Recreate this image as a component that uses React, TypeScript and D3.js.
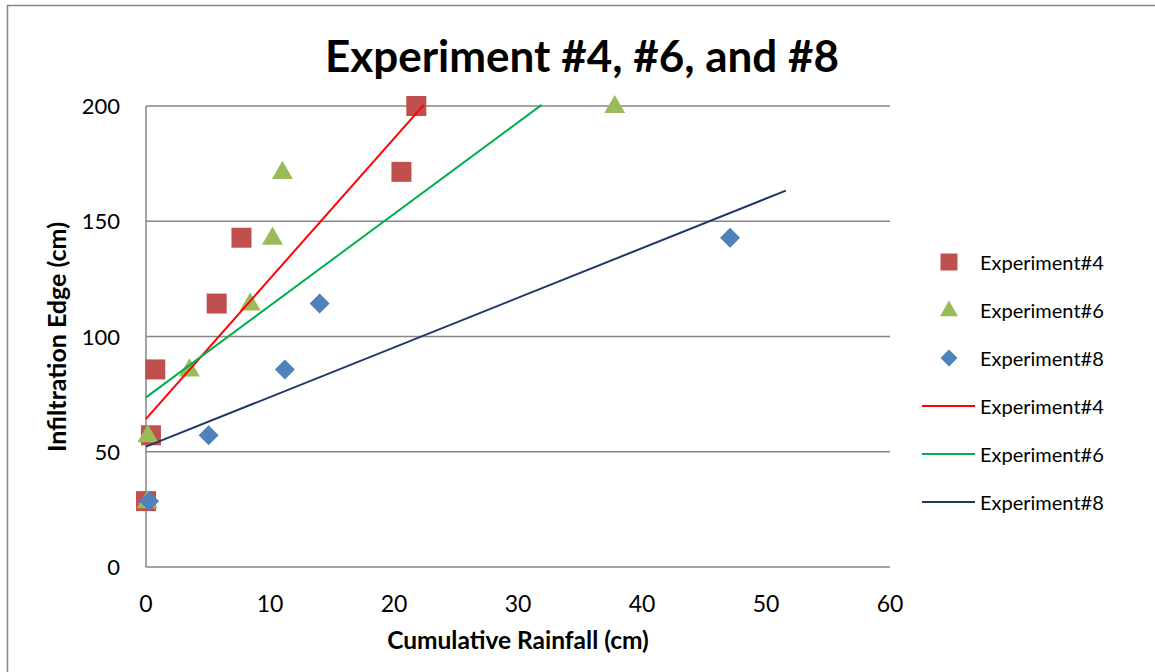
import React from "react";
import * as d3 from "d3";

const exp4X = [0, 0.4, 0.75, 5.7, 7.7, 20.6, 21.8];
const exp4Y = [28.57, 57.14, 85.71, 114.29, 142.86, 171.43, 200];
const exp6X = [0.1, 0.15, 3.5, 8.4, 10.2, 11.0, 37.8];
const exp6Y = [28.57, 57.14, 85.71, 114.29, 142.86, 171.43, 200];
const exp8X = [0.25, 5.05, 11.2, 14.0, 47.1];
const exp8Y = [28.57, 57.14, 85.71, 114.29, 142.86];

// trendline endpoints [x, y]
const trend4 = [[0, 64.3], [22.4, 200.5]];
const trend6 = [[0, 73.6], [31.9, 200.5]];
const trend8 = [[0, 52.2], [51.6, 163.3]];

const xTicks = [0, 10, 20, 30, 40, 50, 60];
const yTicks = [0, 50, 100, 150, 200];
const legendLabels = ["Experiment#4", "Experiment#6", "Experiment#8", "Experiment#4", "Experiment#6", "Experiment#8"];

const FONT = "Lato, 'Open Sans', sans-serif";
const C_SQ = "#C0504D";
const C_TR = "#9BBB59";
const C_DI = "#4F81BD";
const C_L4 = "#FF0000";
const C_L6 = "#00B050";
const C_L8 = "#1F3864";

export default function App() {
  const W = 1155, H = 672;
  const x = d3.scaleLinear().domain([0, 60]).range([146, 890]);
  const y = d3.scaleLinear().domain([0, 200]).range([567, 106]);
  const line = d3.line<number[]>().x((d) => x(d[0])).y((d) => y(d[1]));
  const sq = d3.symbol().type(d3.symbolSquare).size(400)();
  const tri = d3.symbol().type(d3.symbolTriangle).size(190)();
  const dia = (s: number) => `M0,${-s}L${s},0L0,${s}L${-s},0Z`;
  const sqL = d3.symbol().type(d3.symbolSquare).size(289)();
  const triL = d3.symbol().type(d3.symbolTriangle).size(140)();

  const legendY = (i: number) => 262 + i * 48;

  return (
    <svg width={W} height={H} style={{ position: "absolute", left: 0, top: 0, background: "#fff" }}>
      <rect x={0} y={0} width={W} height={H} fill="#fff" />
      <line x1={7} y1={5.5} x2={W} y2={5.5} stroke="#868686" strokeWidth={1.5} />
      <line x1={7.5} y1={5} x2={7.5} y2={H} stroke="#868686" strokeWidth={1.5} />

      <text x={582} y={72} textAnchor="middle" fontFamily={FONT} fontWeight={700} fontSize={44} fill="#000">
        Experiment #4, #6, and #8
      </text>

      {yTicks.filter((t) => t > 0).map((t) => (
        <line key={"g" + t} x1={x(0)} x2={x(60)} y1={y(t)} y2={y(t)} stroke="#868686" strokeWidth={1.5} />
      ))}
      <line x1={x(0)} x2={x(60)} y1={y(0)} y2={y(0)} stroke="#868686" strokeWidth={1.5} />
      <line x1={x(0)} x2={x(0)} y1={y(0)} y2={y(200)} stroke="#868686" strokeWidth={1.5} />

      {yTicks.map((t) => (
        <text key={"yt" + t} x={120} y={y(t) + 8} textAnchor="end" fontFamily={FONT} fontSize={22} fill="#000">
          {t}
        </text>
      ))}
      {xTicks.map((t) => (
        <text key={"xt" + t} x={x(t)} y={612} textAnchor="middle" fontFamily={FONT} fontSize={23} fill="#000">
          {t}
        </text>
      ))}

      <text x={518} y={649} textAnchor="middle" fontFamily={FONT} fontWeight={700} fontSize={24.5} fill="#000">
        Cumulative Rainfall (cm)
      </text>
      <text transform={`translate(66,337) rotate(-90)`} textAnchor="middle" fontFamily={FONT} fontWeight={700} fontSize={25} fill="#000">
        Infiltration Edge (cm)
      </text>

      {exp4X.map((v, i) => (
        <path key={"s" + i} d={sq} transform={`translate(${x(v)},${y(exp4Y[i])})`} fill={C_SQ} />
      ))}
      {exp6X.map((v, i) => (
        <path key={"t" + i} d={tri} transform={`translate(${x(v)},${y(exp6Y[i]) + 1})`} fill={C_TR} />
      ))}
      {exp8X.map((v, i) => (
        <path key={"d" + i} d={dia(10)} transform={`translate(${x(v)},${y(exp8Y[i])})`} fill={C_DI} />
      ))}

      <path d={line(trend4) || ""} stroke={C_L4} strokeWidth={2} fill="none" />
      <path d={line(trend6) || ""} stroke={C_L6} strokeWidth={2} fill="none" />
      <path d={line(trend8) || ""} stroke={C_L8} strokeWidth={2} fill="none" />

      <g>
        <path d={sqL} transform={`translate(949,${legendY(0)})`} fill={C_SQ} />
        <path d={triL} transform={`translate(949,${legendY(1) + 1})`} fill={C_TR} />
        <path d={dia(8.5)} transform={`translate(949,${legendY(2)})`} fill={C_DI} />
        {[C_L4, C_L6, C_L8].map((c, i) => (
          <line key={"ll" + i} x1={922} x2={975} y1={legendY(3 + i)} y2={legendY(3 + i)} stroke={c} strokeWidth={2} />
        ))}
        {legendLabels.map((l, i) => (
          <text key={"lt" + i} x={980} y={legendY(i) + 8} fontFamily={FONT} fontSize={20} fill="#000">
            {l}
          </text>
        ))}
      </g>
    </svg>
  );
}
